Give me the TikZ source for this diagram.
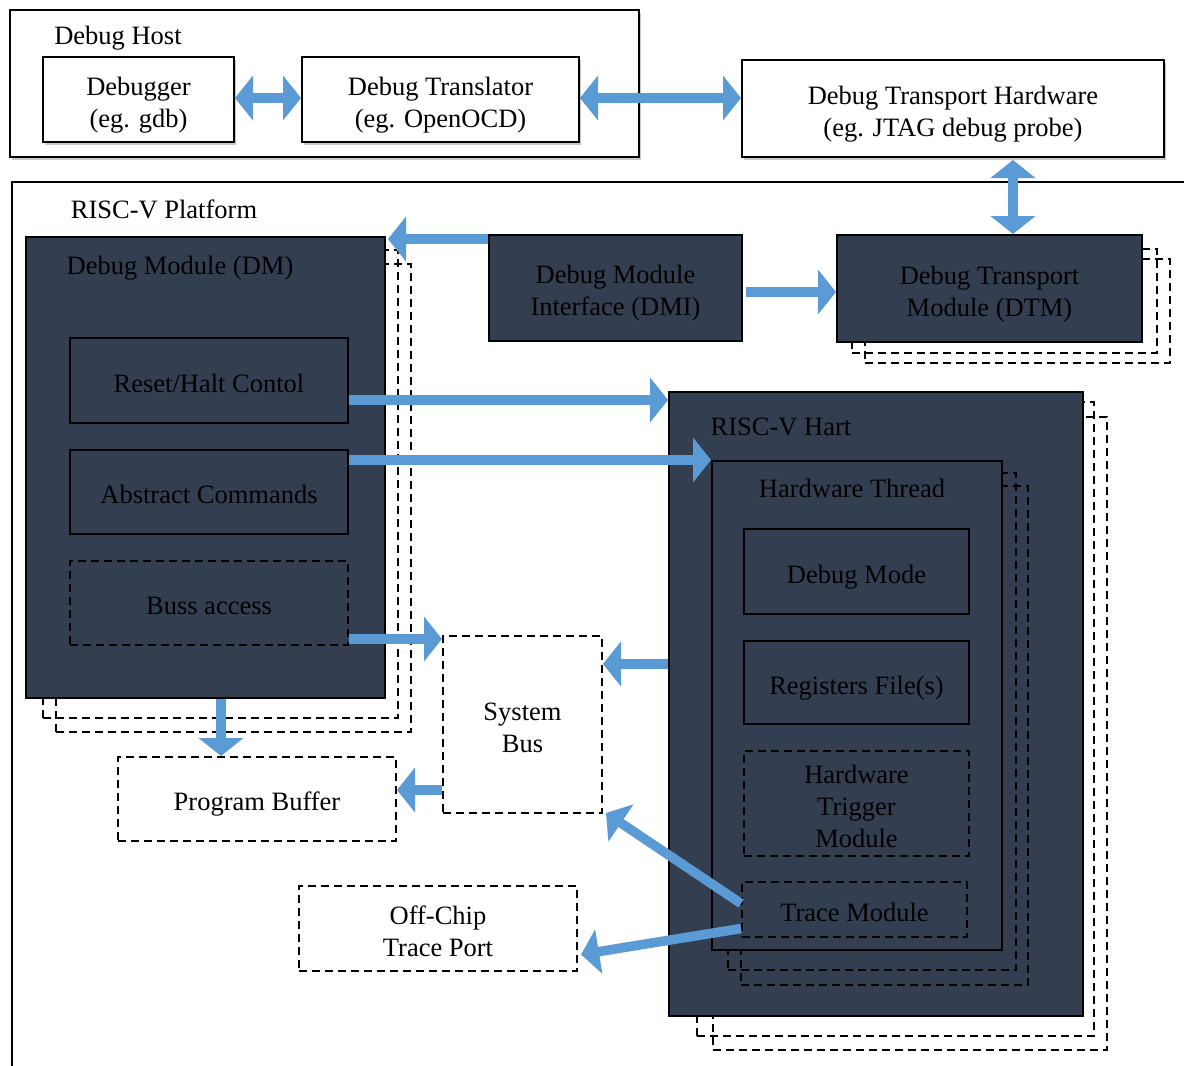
\documentclass[tikz,border=0pt]{standalone}
\usepackage{fontspec}
\setmainfont{Liberation Serif}
\usetikzlibrary{arrows.meta,calc,shadows}

\definecolor{navy}{HTML}{333F50}
\definecolor{flow}{HTML}{5B9BD5}

\newcommand\txtfont{\fontsize{26.5}{32}\selectfont}

% \boxat{name}{style}{x1}{y1}{x2}{y2}{text}: a node spanning the two corners
\newcommand\boxat[7]{%
  \node[#2, minimum width={(#5)-(#3)}, minimum height={(#6)-(#4)}]
    (#1) at ({((#3)+(#5))/2},{((#4)+(#6))/2})
    {\raisebox{-5.5pt}[\height][\depth]{\begin{tabular}{@{}c@{}}#7\end{tabular}}};}

\tikzset{
  frame/.style={draw=black, line width=2pt, inner sep=0pt},
  lightshadow/.style={drop shadow={shadow xshift=2pt, shadow yshift=-2.5pt, fill=black, opacity=0.22}},
  whitebox/.style={frame, fill=white, font=\txtfont, lightshadow},
  darkbox/.style={frame, fill=navy, font=\txtfont, text=black},
  dashbox/.style={draw=black, line width=2pt, dash pattern=on 8pt off 5pt,
                  inner sep=0pt, font=\txtfont},
  ghost/.style={draw=black, line width=2pt, dash pattern=on 8pt off 5pt, inner sep=0pt},
  caption/.style={inner sep=0pt, font=\txtfont, text height=18pt, text depth=6pt},
  flowarrow/.style={draw=flow, line width=9.5pt, -{Triangle[length=18pt,width=44pt]}},
  flowboth/.style={draw=flow, line width=9.5pt,
                   {Triangle[length=18pt,width=44pt]}-{Triangle[length=18pt,width=44pt]}},
}

\begin{document}
\begin{tikzpicture}[x=1pt,y=-1pt]
  \clip (0,0) rectangle (1184,1066);
  \fill[white] (0,0) rectangle (1184,1066);

  % ---------- debug host ----------
  \boxat{host}{frame, fill=white, lightshadow}{10}{10}{639}{157}{}
  \node[caption] (hostlbl) at (118,38) {Debug Host};
  \boxat{dbg}{whitebox}{43}{57}{234}{142}{Debugger\\(eg. gdb)}
  \boxat{tr}{whitebox}{302}{57}{579}{142}{Debug Translator\\(eg. OpenOCD)}
  \boxat{dth}{whitebox}{742}{60}{1164}{157}{Debug Transport Hardware\\(eg. JTAG debug probe)}

  % ---------- platform ----------
  \boxat{platform}{frame}{12}{182}{1200}{1090}{}
  \node[caption] (platlbl) at (164,212) {RISC-V Platform};

  % debug module with its stacked copies
  \boxat{dmS2}{ghost}{56}{264}{411}{732}{}
  \boxat{dmS1}{ghost}{43}{250}{398}{718}{}
  \boxat{dm}{darkbox}{26}{237}{385}{698}{}
  \node[caption] (dmlbl) at (180,268) {Debug Module (DM)};
  \boxat{rh}{darkbox}{70}{338}{348}{423}{Reset/Halt Contol}
  \boxat{ac}{darkbox}{70}{450}{348}{534}{Abstract Commands}
  \boxat{ba}{dashbox}{70}{561}{348}{645}{Buss access}

  % debug module interface and transport module
  \boxat{dmi}{darkbox}{489}{235}{742}{341}{Debug Module\\Interface (DMI)}
  \boxat{dtmS2}{ghost}{865}{259}{1170}{363}{}
  \boxat{dtmS1}{ghost}{852}{249}{1157}{353}{}
  \boxat{dtm}{darkbox}{837}{235}{1142}{342}{Debug Transport\\Module (DTM)}

  % hart with its stacked copies
  \boxat{hartS2}{ghost}{713}{417}{1107}{1050}{}
  \boxat{hartS1}{ghost}{697}{402}{1094}{1036}{}
  \boxat{hart}{darkbox}{669}{392}{1083}{1016}{}
  \node[caption] (hartlbl) at (781,429) {RISC-V Hart};

  % hardware thread with its stacked copies
  \boxat{thrS2}{ghost}{741}{486}{1028}{985}{}
  \boxat{thrS1}{ghost}{728}{473}{1016}{970}{}
  \boxat{thr}{darkbox}{712}{461}{1002}{950}{}
  \node[caption] (thrlbl) at (852,491) {Hardware Thread};
  \boxat{dmode}{darkbox}{744}{529}{969}{614}{Debug Mode}
  \boxat{regs}{darkbox}{744}{641}{969}{724}{Registers File(s)}
  \boxat{trig}{dashbox}{744}{751}{969}{856}{Hardware\\Trigger\\Module}
  \boxat{trace}{dashbox}{742}{882}{967}{937}{Trace Module}

  % memory side
  \boxat{sysbus}{dashbox, fill=white}{443}{636}{602}{813}{System\\Bus}
  \boxat{pbuf}{dashbox, fill=white}{118}{757}{396}{841}{Program Buffer}
  \boxat{offchip}{dashbox, fill=white}{299}{886}{577}{971}{Off-Chip\\Trace Port}

  % ---------- connections ----------
  \draw[flowboth] (dbg.east |- 0,98) -- (tr.west |- 0,98);
  \draw[flowboth] (tr.east |- 0,98) -- (dth.west |- 0,98);
  \coordinate (jtag) at ($(dth.south)+(60,2)$);
  \draw[flowboth] (jtag) -- (jtag |- dtm.north);

  \coordinate (dmiout) at ($(dmi.north west)+(0,5)$);
  \draw[flowarrow] (dmiout) -- ($(dm.north east)+(2,3)$);
  \coordinate (dmiright) at ($(dmi.east)+(3,4)$);
  \draw[flowarrow] (dmiright) -- (dmiright -| dtm.west);

  \coordinate (rhout) at ($(rh.east)+(0,19.5)$);
  \draw[flowarrow] (rhout) -- (rhout -| hart.west);
  \coordinate (acout) at ($(ac.north east)+(0,11)$);
  \draw[flowarrow] (acout) -- (acout -| thr.west);
  \coordinate (baout) at ($(ba.south east)+(0,-7)$);
  \draw[flowarrow] (baout) -- (baout -| sysbus.west);

  \coordinate (dmout) at ($(dm.south)+(15.5,0)$);
  \draw[flowarrow] (dmout) -- (dmout |- pbuf.north);
  \coordinate (hartout) at ($(hart.west)+(0,-40)$);
  \draw[flowarrow] (hartout) -- (hartout -| sysbus.east);
  \coordinate (busout) at ($(sysbus.south west)+(0,-24)$);
  \draw[flowarrow] (busout) -- (busout -| pbuf.east);

  \draw[flowarrow] ($(trace.west)+(0,-6)$) -- ($(sysbus.south east)+(3,-1)$);
  \draw[flowarrow] ($(trace.west)+(0,19)$) -- ($(offchip.east)+(3,26)$);
\end{tikzpicture}
\end{document}
